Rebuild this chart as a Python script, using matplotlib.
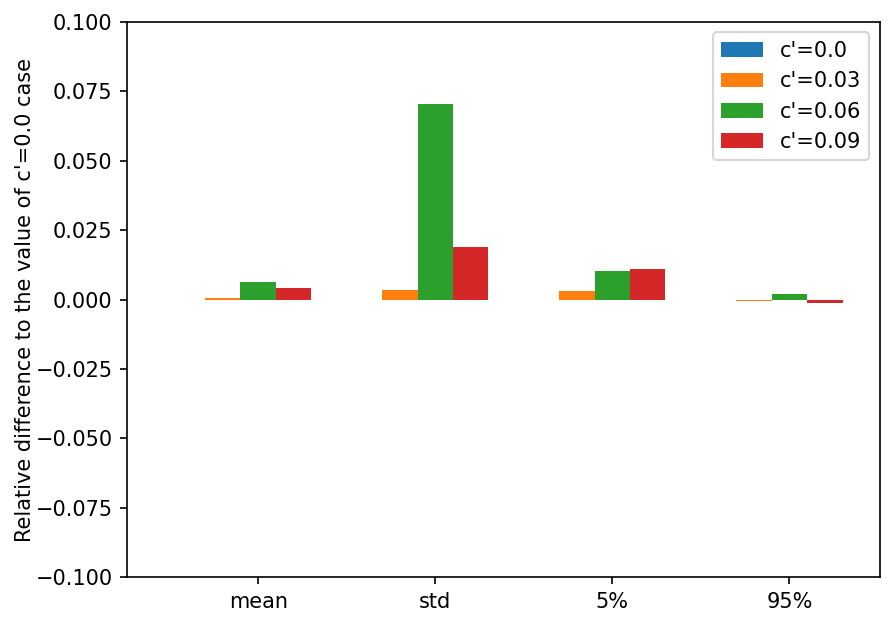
import matplotlib
matplotlib.use("Agg")
import matplotlib.pyplot as plt
import numpy as np

categories = ["mean", "std", "5%", "95%"]
series_labels = ["c'=0.0", "c'=0.03", "c'=0.06", "c'=0.09"]
vals_c000 = [0.0, 0.0, 0.0, 0.0]
vals_c003 = [0.0006, 0.0034, 0.0031, -0.0004]
vals_c006 = [0.0063, 0.0705, 0.0103, 0.0020]
vals_c009 = [0.0041, 0.0189, 0.0110, -0.0013]

series = [vals_c000, vals_c003, vals_c006, vals_c009]
colors = ["#1f77b4", "#ff7f0e", "#2ca02c", "#d62728"]

fig = plt.figure(figsize=(895 / 150, 628 / 150), dpi=150)
ax = fig.add_axes([0.142, 0.081, 0.841, 0.884])

x = np.arange(len(categories))
width = 0.2
for i, (vals, lab, col) in enumerate(zip(series, series_labels, colors)):
    ax.bar(x + (i - 2) * width, vals, width, label=lab, color=col)

ax.set_xticks(x)
ax.set_xticklabels(categories)
ax.set_xlim(-0.74, 3.51)
ax.set_ylim(-0.1, 0.1)
ax.set_yticks(np.arange(-0.1, 0.1001, 0.025))
ax.set_ylabel("Relative difference to the value of c'=0.0 case", labelpad=0.2)
ax.legend(loc="upper right")

fig.savefig("out.png", dpi=150)
